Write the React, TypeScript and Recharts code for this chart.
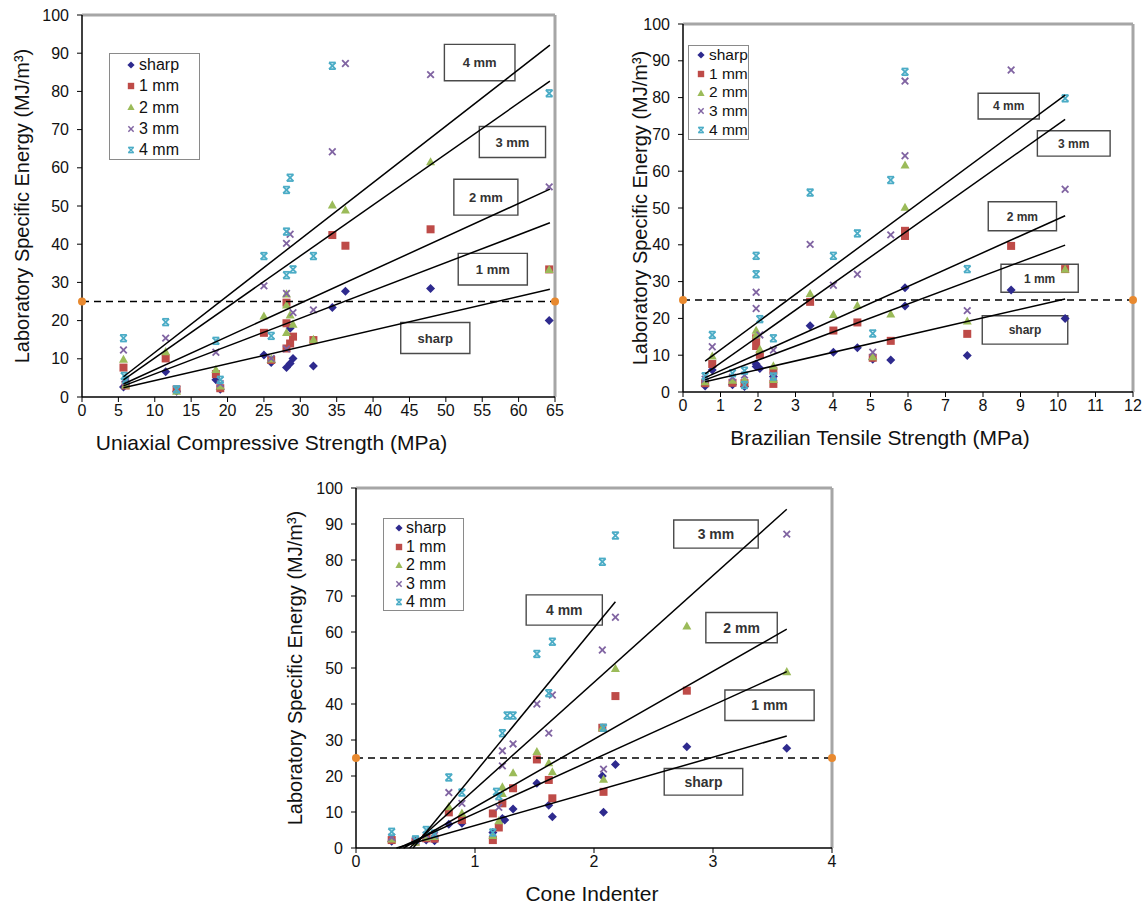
import React from "react";
import { ScatterChart, Scatter, XAxis, YAxis, ReferenceLine, ReferenceArea, Legend, Label } from "recharts";

type Pt = [number, number];

const FONT = "'Liberation Sans', Arial, sans-serif";

const seriesNames = ["sharp", "1 mm", "2 mm", "3 mm", "4 mm"];
const energyTicks = [0, 10, 20, 30, 40, 50, 60, 70, 80, 90, 100];
const threshold = 25;

// --- Uniaxial compressive strength ---
const ucsTicks = [0, 5, 10, 15, 20, 25, 30, 35, 40, 45, 50, 55, 60, 65];
const ucsSharp: Pt[] = [
  [5.7, 2.6], [6, 4], [11.5, 6.6], [13, 1.5], [18.4, 4.5], [19, 2], [25, 11], [26, 9],
  [28.1, 7.7], [28.6, 18], [28.6, 8.8], [29, 10.1], [31.8, 8.1], [34.4, 23.4], [36.2, 27.7],
  [47.9, 28.4], [64.2, 20],
];
const ucs1mm: Pt[] = [
  [5.7, 7.7], [6, 3], [11.5, 10.1], [13, 2], [18.4, 6], [19, 2.3], [25, 16.8], [26, 9.7],
  [28.1, 24.7], [28.1, 19.3], [28.1, 12.7], [28.6, 14], [29, 15.8], [31.8, 14.9], [34.4, 42.4],
  [36.2, 39.6], [47.9, 43.9], [64.2, 33.4],
];
const ucs2mm: Pt[] = [
  [5.7, 9.9], [6, 3.2], [11.5, 11.9], [13, 1.5], [18.4, 7.2], [19, 2.9], [25, 21.2], [26, 10],
  [28.1, 27], [28.1, 24.1], [28.1, 16.9], [28.6, 21.5], [29, 19.1], [31.8, 15.1], [34.4, 50.3],
  [36.2, 49], [47.9, 61.6], [64.2, 33.4],
];
const ucs3mm: Pt[] = [
  [5.7, 12.3], [6, 4], [11.5, 15.4], [13, 2], [18.4, 11.7], [19, 3.5], [25, 29.1], [26, 10.1],
  [28.1, 40.2], [28.1, 27.1], [28.1, 12.6], [28.6, 42.6], [29, 22.1], [31.8, 22.8], [34.4, 64.2],
  [36.2, 87.3], [47.9, 84.4], [64.2, 55],
];
const ucs4mm: Pt[] = [
  [5.7, 15.4], [6, 4.5], [5.8, 5.5], [11.5, 19.6], [13, 2], [18.4, 14.7], [19, 4.5], [25, 36.9],
  [26, 16], [28.1, 54.2], [28.1, 43.3], [28.1, 31.9], [28.6, 57.4], [29, 33.4], [31.8, 36.9],
  [34.4, 86.7], [64.2, 79.5],
];
const ucsTrendStart: Pt[] = [[5.7, 2.4], [5.7, 2.9], [5.7, 3.4], [5.7, 4.5], [5.7, 5.3]];
const ucsTrendEnd: Pt[] = [[64.3, 28.2], [64.3, 45.6], [64.3, 54.4], [64.3, 82.7], [64.3, 92.1]];

// --- Brazilian tensile strength ---
const btsTicks = [0, 1, 2, 3, 4, 5, 6, 7, 8, 9, 10, 11, 12];
const btsSharp: Pt[] = [
  [0.59, 1.6], [0.78, 6], [1.32, 2], [1.64, 1.5], [1.95, 7.6], [1.95, 6.9], [2.05, 6.4], [2.41, 4.2],
  [3.39, 18], [4.01, 10.8], [4.65, 12], [5.06, 8.9], [5.54, 8.7], [5.92, 28.3], [5.92, 23.4],
  [7.58, 9.9], [8.75, 27.7], [10.19, 20],
];
const bts1mm: Pt[] = [
  [0.59, 2.4], [0.78, 7.6], [1.32, 2.5], [1.64, 2.4], [1.95, 14.6], [1.95, 12.5], [2.05, 10.1],
  [2.41, 5.8], [2.41, 2.2], [3.39, 24.5], [4.01, 16.7], [4.65, 18.9], [5.06, 9.3], [5.54, 13.9],
  [5.92, 43.8], [5.92, 42.4], [7.58, 15.8], [8.75, 39.7], [10.19, 33.4],
];
const bts2mm: Pt[] = [
  [0.59, 2.8], [0.78, 9.8], [1.32, 3.2], [1.64, 3.4], [1.95, 16.8], [1.95, 15.5], [2.05, 11.6],
  [2.41, 7.1], [2.41, 3.4], [3.39, 26.8], [4.01, 21.1], [4.65, 23.6], [5.06, 9.6], [5.54, 21.2],
  [5.92, 61.7], [5.92, 50.2], [7.58, 19.3], [10.19, 33.4],
];
const bts3mm: Pt[] = [
  [0.59, 3.5], [0.78, 12.3], [1.32, 4], [1.64, 4.6], [1.95, 27.1], [1.95, 22.7], [2.05, 15.5],
  [2.41, 11.4], [2.41, 4.5], [3.39, 40.1], [4.01, 29], [4.65, 32], [5.06, 10.8], [5.54, 42.7],
  [5.92, 84.5], [5.92, 64.2], [7.58, 22.1], [8.75, 87.5], [10.19, 55.1],
];
const bts4mm: Pt[] = [
  [0.59, 4.3], [0.78, 15.5], [1.32, 5.1], [1.64, 5.8], [1.64, 1.9], [1.95, 37], [1.95, 32],
  [2.05, 19.8], [2.41, 14.6], [2.41, 4.2], [3.39, 54.2], [4.01, 37], [4.65, 43.1], [5.06, 15.9],
  [5.54, 57.6], [5.92, 87], [7.58, 33.4], [10.19, 79.8],
];
const btsTrendStart: Pt[] = [[0.59, 2.8], [0.59, 3.3], [0.59, 3.9], [0.59, 4.9], [0.59, 8.4]];
const btsTrendEnd: Pt[] = [[10.19, 25.3], [10.19, 39.9], [10.19, 47.9], [10.19, 74.1], [10.19, 80.7]];

// --- Cone indenter ---
const ciTicks = [0, 1, 2, 3, 4];
const ciSharp: Pt[] = [
  [0.3, 1.9], [0.5, 1.9], [0.59, 2.2], [0.66, 2], [0.78, 6.6], [0.89, 6.9], [1.15, 4.3], [1.23, 8.2],
  [1.25, 7.8], [1.32, 10.8], [1.52, 18], [1.62, 11.9], [1.65, 8.7], [2.07, 20], [2.08, 9.9],
  [2.18, 23.2], [2.78, 28.1], [3.62, 27.7],
];
const ci1mm: Pt[] = [
  [0.3, 2.2], [0.5, 1.8], [0.59, 2.7], [0.66, 2.6], [0.78, 9.9], [0.89, 7.8], [1.15, 2.2], [1.15, 9.6],
  [1.2, 5.7], [1.23, 12.4], [1.32, 16.6], [1.52, 24.6], [1.62, 18.9], [1.65, 13.8], [2.07, 33.4],
  [2.08, 15.6], [2.18, 42.2], [2.78, 43.7],
];
const ci2mm: Pt[] = [
  [0.3, 2.5], [0.5, 1.6], [0.59, 3], [0.66, 3.2], [0.78, 11.5], [0.89, 9.7], [1.15, 3.5], [1.2, 7.6],
  [1.23, 17], [1.23, 15.2], [1.32, 20.9], [1.52, 26.8], [1.62, 23.7], [1.65, 21.2], [2.07, 33.4],
  [2.08, 19.1], [2.18, 49.9], [2.78, 61.7], [3.62, 49],
];
const ci3mm: Pt[] = [
  [0.3, 3], [0.5, 2], [0.59, 3.6], [0.66, 3.5], [0.78, 15.4], [0.89, 12.4], [1.2, 11.3], [1.23, 27],
  [1.23, 22.8], [1.32, 28.9], [1.52, 40], [1.62, 31.9], [1.65, 42.5], [2.07, 55], [2.08, 21.9],
  [2.18, 64.1], [3.62, 87.2],
];
const ci4mm: Pt[] = [
  [0.3, 4.5], [0.5, 2.4], [0.59, 5], [0.66, 4], [0.78, 19.6], [0.89, 15.4], [1.15, 4.3], [1.18, 15.6],
  [1.2, 14.4], [1.23, 31.9], [1.27, 36.8], [1.32, 36.8], [1.52, 53.9], [1.62, 43], [1.65, 57.3],
  [2.07, 79.5], [2.08, 33.4], [2.18, 86.8],
];
const ciTrendStart: Pt[] = [[0.34, 0], [0.36, 0], [0.4, 0], [0.45, 0], [0.48, 0]];
const ciTrendEnd: Pt[] = [[3.62, 31.1], [3.62, 49], [3.62, 60.8], [3.62, 94.1], [2.18, 68.4]];

// annotation boxes: [x1, x2, y1, y2] per series (sharp..4 mm)
const ucsBoxes = [[43.8, 53.3, 11.4, 19.5], [51.7, 61.2, 29.3, 37.6], [51.1, 59.9, 47.6, 57], [54.6, 63.7, 62.7, 70.8], [49.8, 59.5, 82.8, 92.3]];
const btsBoxes = [[7.98, 10.26, 13, 20.7], [8.48, 10.54, 27.1, 34.7], [8.14, 9.96, 43.8, 51.7], [9.45, 11.39, 64.1, 71], [7.87, 9.5, 74.2, 81.2]];
const ciBoxes = [[2.59, 3.25, 14.7, 22.1], [3.1, 3.85, 35.4, 43.9], [2.94, 3.54, 57, 65.4], [2.67, 3.38, 83.3, 91.1], [1.43, 2.07, 61.9, 70.3]];

const COLORS = ["#2E2A8E", "#BE4B48", "#9BBB59", "#8064A2", "#4BACC6"];

function marker(i: number, cx: number, cy: number, s = 1) {
  const c = COLORS[i];
  if (i === 0) {
    const r = 4.5 * s;
    return <polygon points={`${cx},${cy - r} ${cx + r},${cy} ${cx},${cy + r} ${cx - r},${cy}`} fill={c} />;
  }
  if (i === 1) {
    const r = 4 * s;
    return <rect x={cx - r} y={cy - r} width={2 * r} height={2 * r} fill={c} />;
  }
  if (i === 2) {
    const r = 4.5 * s;
    return <polygon points={`${cx},${cy - r} ${cx + r},${cy + r * 0.8} ${cx - r},${cy + r * 0.8}`} fill={c} />;
  }
  const r = 3.3 * s;
  return (
    <g stroke={c} strokeWidth={1.8 * s}>
      <line x1={cx - r} y1={cy - r} x2={cx + r} y2={cy + r} />
      <line x1={cx - r} y1={cy + r} x2={cx + r} y2={cy - r} />
      {i === 4 && <line x1={cx - r} y1={cy - r} x2={cx + r} y2={cy - r} />}
      {i === 4 && <line x1={cx - r} y1={cy + r} x2={cx + r} y2={cy + r} />}
    </g>
  );
}

interface LegendBox { left: number; top: number; w: number; h: number; rowH: number; markerX: number; textX: number; font: number }

interface PanelProps {
  width: number;
  height: number;
  margin: { top: number; right: number; left: number; bottom: number };
  yAxisWidth: number;
  xDomain: [number, number];
  xTicks: number[];
  series: Pt[][];
  trendStart: Pt[];
  trendEnd: Pt[];
  boxes: number[][];
  boxFont: number;
  xTitle: string;
  xTitleShift: number;
  yTitleGap: number;
  legend: LegendBox;
}

const toData = (pts: Pt[]) => pts.map(([x, y]) => ({ x, y }));

function Panel(p: PanelProps) {
  const lg = p.legend;
  const legendContent = () => (
    <div
      style={{
        width: lg.w, height: lg.h, boxSizing: "border-box", border: "1px solid #8A8A8A",
        background: "#fff", fontFamily: FONT, fontSize: lg.font, color: "#111", whiteSpace: "nowrap",
      }}
    >
      {seriesNames.map((name, i) => (
        <div key={name} style={{ position: "relative", height: lg.rowH, lineHeight: `${lg.rowH}px` }}>
          <svg width={14} height={14} style={{ position: "absolute", left: lg.markerX - 7, top: lg.rowH / 2 - 7 }}>
            {marker(i, 7, 7, 0.8)}
          </svg>
          <span style={{ position: "absolute", left: lg.textX, whiteSpace: "nowrap" }}>{name}</span>
        </div>
      ))}
    </div>
  );

  const yTitle = (props: any) => {
    const vb = props.viewBox;
    const cx = vb.x + vb.width - p.yTitleGap;
    const cy = vb.y + vb.height / 2;
    return (
      <text x={cx} y={cy} transform={`rotate(-90 ${cx} ${cy})`} textAnchor="middle" dominantBaseline="central"
        fontFamily={FONT} fontSize={20} fill="#111">
        Laboratory Specific Energy (MJ/m³)
      </text>
    );
  };
  const xTitle = (props: any) => {
    const vb = props.viewBox;
    const cx = vb.x + vb.width / 2 + p.xTitleShift;
    const cy = vb.y + 45;
    return (
      <text x={cx} y={cy} textAnchor="middle" dominantBaseline="central" fontFamily={FONT} fontSize={21} fill="#111">
        {p.xTitle}
      </text>
    );
  };

  const tick = { fill: "#111", fontSize: 16, fontFamily: FONT };

  return (
    <ScatterChart width={p.width} height={p.height} margin={p.margin}>
      <XAxis type="number" dataKey="x" domain={p.xDomain} ticks={p.xTicks} interval={0} height={30}
        axisLine={{ stroke: "#000", strokeWidth: 1.5 }} tickLine={{ stroke: "#000" }} tickSize={5} tickMargin={3} tick={tick}>
        <Label content={xTitle} />
      </XAxis>
      <YAxis type="number" dataKey="y" domain={[0, 100]} ticks={energyTicks} interval={0} width={p.yAxisWidth}
        axisLine={{ stroke: "#000", strokeWidth: 1.5 }} tickLine={{ stroke: "#000" }} tickSize={5} tickMargin={8} tick={tick}>
        <Label content={yTitle} />
      </YAxis>
      <ReferenceLine y={100} stroke="#A6A6A6" strokeWidth={3} />
      <ReferenceLine x={p.xDomain[1]} stroke="#A6A6A6" strokeWidth={3} />
      {p.series.map((pts, i) => (
        <Scatter key={seriesNames[i]} name={seriesNames[i]} data={toData(pts)} isAnimationActive={false}
          shape={(s: any) => marker(i, s.cx, s.cy)} />
      ))}
      {p.trendStart.map((st, i) => (
        <Scatter key={`trend-${i}`} data={toData([st, p.trendEnd[i]])} legendType="none" isAnimationActive={false}
          line={{ stroke: "#000", strokeWidth: 1.5 }} shape={() => <g />} />
      ))}
      <Scatter data={toData([[p.xDomain[0], threshold], [p.xDomain[1], threshold]])} legendType="none"
        isAnimationActive={false} line={{ stroke: "#000", strokeWidth: 1.5, strokeDasharray: "7 5" }}
        shape={(s: any) => <circle cx={s.cx} cy={s.cy} r={4} fill="#E8892F" />} />
      {p.boxes.map((b, i) => (
        <ReferenceArea key={`box-${i}`} x1={b[0]} x2={b[1]} y1={b[2]} y2={b[3]} fill="#fff" fillOpacity={1}
          stroke="#4A4A4A" strokeWidth={1.4}
          label={{ value: seriesNames[i], position: "center", fontSize: p.boxFont, fontWeight: "bold", fill: "#333", fontFamily: FONT }} />
      ))}
      <Legend layout="vertical" align="center" verticalAlign="middle" content={legendContent}
        wrapperStyle={{ left: lg.left, top: lg.top, width: lg.w, height: lg.h }} />
    </ScatterChart>
  );
}

export default function App() {
  return (
    <div style={{ position: "absolute", left: 0, top: 0, width: 1146, height: 908, background: "#fff" }}>
      <div style={{ position: "absolute", left: 0, top: 0 }}>
        <Panel width={575} height={460} margin={{ top: 15, right: 20, left: 22, bottom: 33 }} yAxisWidth={60}
          xDomain={[0, 65]} xTicks={ucsTicks} series={[ucsSharp, ucs1mm, ucs2mm, ucs3mm, ucs4mm]}
          trendStart={ucsTrendStart} trendEnd={ucsTrendEnd} boxes={ucsBoxes} boxFont={13}
          xTitle="Uniaxial Compressive Strength (MPa)" xTitleShift={-47} yTitleGap={60}
          legend={{ left: 109, top: 53, w: 91, h: 107, rowH: 21.3, markerX: 21, textX: 29, font: 16 }} />
      </div>
      <div style={{ position: "absolute", left: 575, top: 0 }}>
        <Panel width={571} height={460} margin={{ top: 24, right: 13, left: 68, bottom: 38 }} yAxisWidth={40}
          xDomain={[0, 12]} xTicks={btsTicks} series={[btsSharp, bts1mm, bts2mm, bts3mm, bts4mm]}
          trendStart={btsTrendStart} trendEnd={btsTrendEnd} boxes={btsBoxes} boxFont={12}
          xTitle="Brazilian Tensile Strength (MPa)" xTitleShift={-28} yTitleGap={43}
          legend={{ left: 113, top: 45, w: 61, h: 95, rowH: 18.7, markerX: 12, textX: 20, font: 15.5 }} />
      </div>
      <div style={{ position: "absolute", left: 0, top: 460 }}>
        <Panel width={1146} height={448} margin={{ top: 28, right: 314, left: 296, bottom: 30 }} yAxisWidth={60}
          xDomain={[0, 4]} xTicks={ciTicks} series={[ciSharp, ci1mm, ci2mm, ci3mm, ci4mm]}
          trendStart={ciTrendStart} trendEnd={ciTrendEnd} boxes={ciBoxes} boxFont={14}
          xTitle="Cone Indenter" xTitleShift={-2} yTitleGap={61}
          legend={{ left: 383, top: 58, w: 81, h: 93, rowH: 18.5, markerX: 15, textX: 22, font: 16 }} />
      </div>
    </div>
  );
}
